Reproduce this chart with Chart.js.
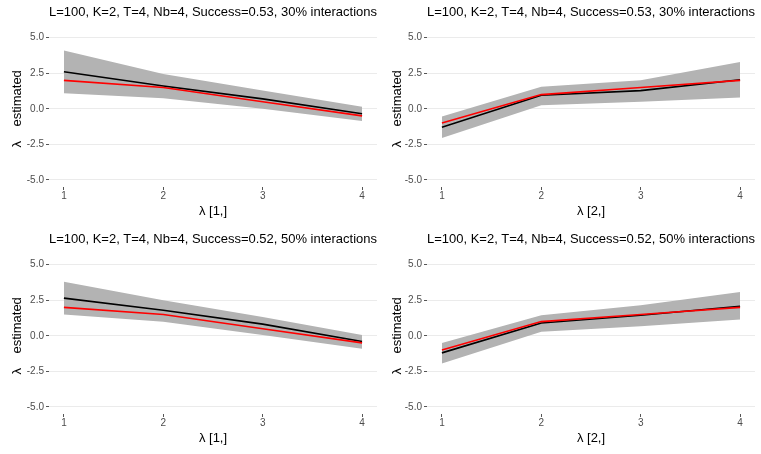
<!DOCTYPE html>
<html>
<head>
<meta charset="utf-8">
<script src="https://cdn.jsdelivr.net/npm/chart.js@4.4.1/dist/chart.umd.min.js"></script>
<style>
  html, body { margin: 0; padding: 0; background: #ffffff; }
  #grid { position: relative; width: 761px; height: 454px; }
  .panel { position: absolute; height: 227px; }
</style>
</head>
<body>
<div id="grid">
  <div class="panel" style="left:0;top:0;width:380px"><canvas id="c0"></canvas></div>
  <div class="panel" style="left:380px;top:0;width:381px"><canvas id="c1"></canvas></div>
  <div class="panel" style="left:0;top:227px;width:380px"><canvas id="c2"></canvas></div>
  <div class="panel" style="left:380px;top:227px;width:381px"><canvas id="c3"></canvas></div>
</div>
<script>
// Shared values
const xValues = [1, 2, 3, 4];
const yTicks = [-5, -2.5, 0, 2.5, 5];
const panelTitles = [
  "L=100, K=2, T=4, Nb=4, Success=0.53, 30% interactions",
  "L=100, K=2, T=4, Nb=4, Success=0.53, 30% interactions",
  "L=100, K=2, T=4, Nb=4, Success=0.52, 50% interactions",
  "L=100, K=2, T=4, Nb=4, Success=0.52, 50% interactions",
];
const xTitles = ["λ [1,]", "λ [2,]", "λ [1,]", "λ [2,]"];
const yTitle = "λ    estimated";

// True values (red lines)
const trueRow1 = [2, 1.5, 0.5, -0.5];
const trueRow2 = [-1, 1, 1.5, 2];

// Estimates (black) and ribbon bounds per panel
const est0 = [2.6, 1.6, 0.7, -0.35];
const upper0 = [4.1, 2.45, 1.28, 0.15];
const lower0 = [1.1, 0.74, 0.0, -0.86];

const est1 = [-1.3, 0.95, 1.28, 2.04];
const upper1 = [-0.55, 1.55, 2.0, 3.3];
const lower1 = [-2.05, 0.25, 0.5, 0.8];

const est2 = [2.65, 1.8, 0.82, -0.4];
const upper2 = [3.8, 2.5, 1.33, 0.05];
const lower2 = [1.5, 0.98, 0.05, -0.91];

const est3 = [-1.2, 0.9, 1.45, 2.08];
const upper3 = [-0.5, 1.45, 2.15, 3.08];
const lower3 = [-1.95, 0.28, 0.68, 1.14];

const panels = [
  { truth: trueRow1, est: est0, upper: upper0, lower: lower0 },
  { truth: trueRow2, est: est1, upper: upper1, lower: lower1 },
  { truth: trueRow1, est: est2, upper: upper2, lower: lower2 },
  { truth: trueRow2, est: est3, upper: upper3, lower: lower3 },
];

const toPoints = (ys) => xValues.map((x, i) => ({ x: x, y: ys[i] }));

Chart.defaults.font.family = "'Liberation Sans', Arial, sans-serif";
Chart.defaults.animation = false;

panels.forEach(function (p, idx) {
  const isRight = idx % 2 === 1;
  new Chart(document.getElementById("c" + idx), {
    type: "line",
    data: {
      datasets: [
        { data: toPoints(p.truth), borderColor: "#ff0000", borderWidth: 1.6, pointRadius: 0, fill: false },
        { data: toPoints(p.est), borderColor: "#000000", borderWidth: 1.6, pointRadius: 0, fill: false },
        { data: toPoints(p.upper), borderWidth: 0, borderColor: "rgba(0,0,0,0)", pointRadius: 0,
          fill: { target: "+1" }, backgroundColor: "#b3b3b3" },
        { data: toPoints(p.lower), borderWidth: 0, borderColor: "rgba(0,0,0,0)", pointRadius: 0, fill: false },
      ],
    },
    options: {
      responsive: true,
      maintainAspectRatio: false,
      layout: { padding: { left: 0, right: isRight ? 6 : 3, top: 0, bottom: 0 } },
      plugins: {
        legend: { display: false },
        tooltip: { enabled: false },
        filler: { drawTime: "beforeDatasetsDraw" },
        title: {
          display: true,
          text: panelTitles[idx],
          fullSize: false,
          color: "#000000",
          font: { size: 13, weight: "normal" },
          padding: { top: 5, bottom: 10 },
        },
      },
      scales: {
        x: {
          type: "linear",
          min: 0.85,
          max: 4.15,
          afterBuildTicks: (scale) => { scale.ticks = xValues.map((v) => ({ value: v })); },
          afterFit: (scale) => { scale.height = 40; },
          border: { display: false },
          grid: { drawOnChartArea: false, drawTicks: true, tickLength: 3, tickColor: "#555555" },
          ticks: { color: "#4d4d4d", font: { size: 10 }, padding: 0, maxRotation: 0 },
          title: { display: true, text: xTitles[idx], color: "#000000", font: { size: 13 }, padding: { top: 8, bottom: 8 } },
        },
        y: {
          type: "linear",
          min: -5.5,
          max: 5.5,
          afterBuildTicks: (scale) => { scale.ticks = yTicks.map((v) => ({ value: v })); },
          afterFit: (scale) => { scale.width = isRight ? 47 : 49; },
          border: { display: false },
          grid: { color: "#ebebeb", lineWidth: 1, drawTicks: true, tickLength: 3, tickColor: "#555555" },
          ticks: { color: "#4d4d4d", font: { size: 10 }, padding: 2, callback: (v) => v.toFixed(1) },
          title: { display: true, text: yTitle, color: "#000000", font: { size: 13 }, padding: { top: 10, bottom: 10 } },
        },
      },
    },
  });
});
</script>
</body>
</html>
